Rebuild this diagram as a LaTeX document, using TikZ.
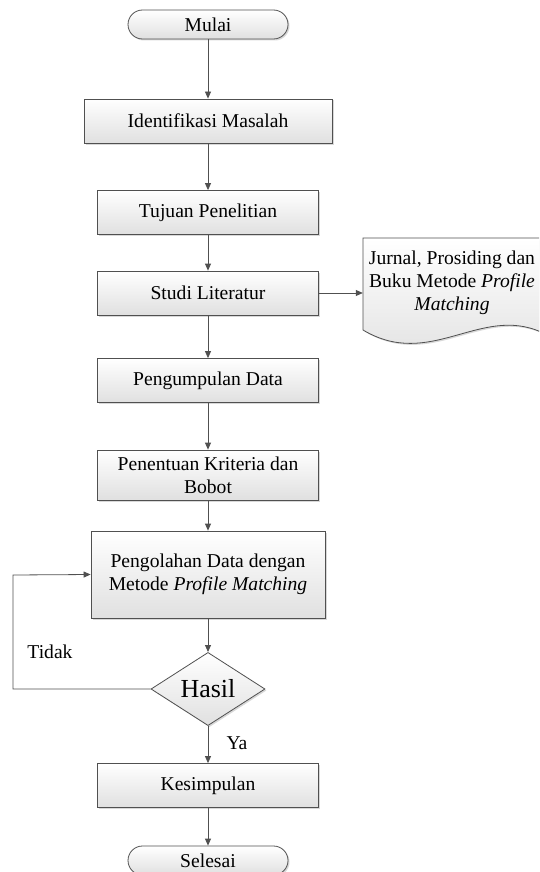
\documentclass[tikz,border=0pt]{standalone}
\usepackage{fontspec}
\setmainfont{Liberation Serif}
\usetikzlibrary{shapes.geometric,arrows.meta,shadows}
\definecolor{linec}{HTML}{505050}
\definecolor{boxbot}{HTML}{E0E0E0}
\begin{document}
\begin{tikzpicture}[x=1pt,y=-1pt,
  font=\fontsize{19.6}{23}\selectfont,
  proc/.style={draw=linec, line width=0.8pt, top color=white, bottom color=boxbot,
    drop shadow={shadow xshift=1.5pt, shadow yshift=-1.5pt, fill=black!30},
    align=center, inner sep=0pt},
  sbox/.style={proc, minimum width=221pt, minimum height=44pt},
  term/.style={proc, rounded corners=14.5pt, minimum width=160pt, minimum height=29pt},
  dec/.style={proc, shape=diamond, minimum width=114pt, minimum height=66pt,
    font=\fontsize{26}{30}\selectfont},
  arr/.style={draw=linec, line width=0.8pt, -{Triangle[length=7pt,width=6pt]}},
  lbl/.style={inner sep=0pt}]
\clip (0,0) rectangle (539,872);
\fill[white] (0,0) rectangle (539,872);

\node[term] (mulai) at (208,24.5) {Mulai};
\node[proc, minimum width=248pt, minimum height=44pt] (ident) at (208,121) {Identifikasi Masalah};
\node[sbox] (tujuan) at (208,212.5) {Tujuan Penelitian};
\node[sbox] (studi) at (208,293) {Studi Literatur};
\node[sbox] (kumpul) at (208,380.5) {Pengumpulan Data};
\node[proc, minimum width=221pt, minimum height=50pt] (tentu) at (208,475) {Penentuan Kriteria dan\\Bobot};
\node[proc, minimum width=234pt, minimum height=87pt] (olah) at (208,574.5) {Pengolahan Data dengan\\Metode \textit{Profile Matching}};
\node[dec] (hasil) at (208,689) {Hasil};
\node[sbox] (kesim) at (208,785.5) {Kesimpulan};
\node[term] (selesai) at (208,860.5) {Selesai};

% document shape
\path[draw=linec, line width=0.8pt, top color=white, bottom color=boxbot,
    drop shadow={shadow xshift=1.5pt, shadow yshift=-1.5pt, fill=black!30}]
  (363,238) -- (541,238) -- (541,332) .. controls (480,305) and (430,370) .. (363,330) -- cycle;
\node[align=center, inner sep=0pt, minimum width=178pt] (doc) at (452,283)
  {Jurnal, Prosiding dan\\Buku Metode \textit{Profile}\\\textit{Matching}};

\draw[arr] (mulai.south) -- (ident.north);
\draw[arr] (ident.south) -- (tujuan.north);
\draw[arr] (tujuan.south) -- (studi.north);
\draw[arr] (studi.south) -- (kumpul.north);
\draw[arr] (kumpul.south) -- (tentu.north);
\draw[arr] (tentu.south) -- (olah.north);
\draw[arr] (olah.south) -- (hasil.north);
\draw[arr] (hasil.south) -- (kesim.north);
\draw[arr] (kesim.south) -- (selesai.north);
\draw[arr] (studi.east) -- (studi.east -| doc.west);
\coordinate (lp) at (13,575);
\draw[arr] (hasil.west) -| (lp) -- (olah.west);

\node[lbl] (tidak) at (50,652) {Tidak};
\node[lbl] (ya) at (237,743) {Ya};
\end{tikzpicture}
\end{document}
